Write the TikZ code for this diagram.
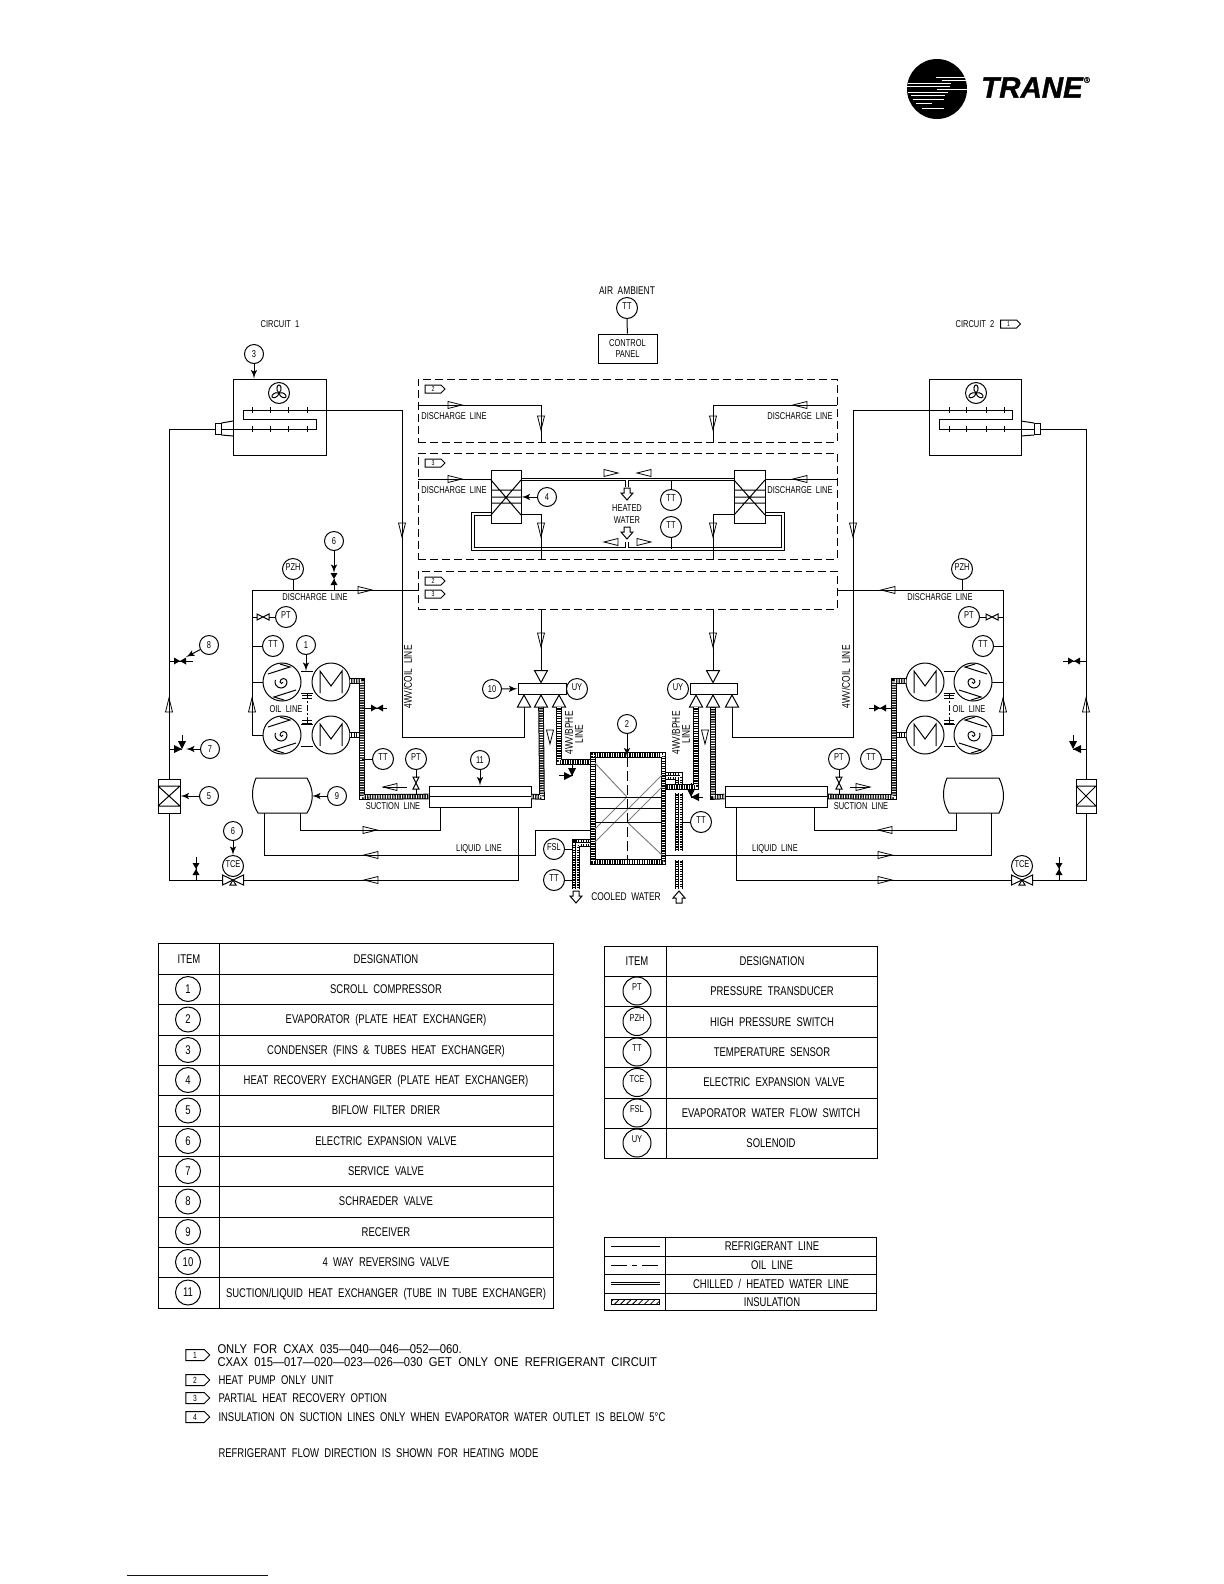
\documentclass[tikz,border=0pt]{standalone}
\usepackage{fontspec}
\setmainfont[FakeStretch=0.75,WordSpace=2]{Liberation Sans}
\newfontfamily\logofont[FakeBold=1.2]{Liberation Sans}
\newfontfamily\widefont[FakeStretch=0.88,WordSpace=2]{Liberation Sans}
\usetikzlibrary{arrows,patterns,shapes.symbols}
\newcommand{\pxu}{0.5bp}
\newcommand{\lblfont}{\fontsize{5pt}{5.6pt}\selectfont}
\newcommand{\midfont}{\fontsize{5.6pt}{6pt}\selectfont}
\newcommand{\tabfont}{\fontsize{6.35pt}{8pt}\selectfont}

\begin{document}
\begin{tikzpicture}[x=0.5bp,y=-0.5bp,line width=0.5pt]
                \tikzset{vertex/.style = {shape=circle,draw,inner sep=0pt,minimum size=19*\pxu,font=\lblfont}}
                \tikzset{instr/.style = {vertex,minimum size=21*\pxu,text height=1.5pt,text depth=0.5pt}}
                \tikzset{bigvertex/.style = {vertex,minimum size=25*\pxu,font=\tabfont}}
                \tikzset{biginstr/.style = {bigvertex,minimum size=28*\pxu,text height=0.5pt,text depth=0.9pt,font=\lblfont}}
                \tikzset{edge/.style = {->,> = latex'}}
                \tikzset{plate/.style = {draw,fill=white,inner sep=0pt}}
                \tikzset{dashbox/.style = {draw,inner sep=0pt,dash pattern=on 4bp off 2bp}}
                \tikzset{txt/.style = {inner sep=0pt,font=\lblfont,text height=3.6pt,text depth=0pt}}
                \tikzset{midtxt/.style = {inner sep=0pt,font=\midfont,text height=4pt,text depth=0pt}}
                \tikzset{tabtxt/.style = {inner sep=0pt,font=\tabfont,text height=4.5pt,text depth=0pt}}
                \tikzset{notetag/.style = {shape=signal,signal to=east,draw,inner sep=0pt,minimum width=20*\pxu,minimum height=8*\pxu,font=\fontsize{3.5pt}{4pt}\selectfont}}
                \tikzset{bigtag/.style = {notetag,minimum width=24*\pxu,minimum height=11*\pxu,font=\fontsize{4.5pt}{5pt}\selectfont}}
                \tikzset{wline/.style = {double,double distance=0.75bp,line width=0.45pt}}
                \tikzset{insul/.style = {line width=5.6*\pxu,postaction={draw=white,line width=3.6*\pxu,dash pattern=on 0.55pt off 0.7pt}}}
                \tikzset{winsul/.style = {line width=7.2*\pxu,postaction={draw=white,line width=5.6*\pxu,dash pattern=on 0.55pt off 0.7pt},postaction={draw=black,solid,line width=2.4*\pxu},postaction={draw=white,solid,line width=1*\pxu}}}
                \tikzset{flow/.pic = {\draw[line width=0.4pt] (-7,-3.5) -- (7,0) -- (-7,3.5) -- cycle;}}
                \tikzset{tri/.pic = {\draw (-6.5,6) -- (6.5,6) -- (0,-6) -- cycle;}}
                \tikzset{block/.pic = {\draw (-3,-6) -- (3,-6) -- (3,-1) -- (6,-1) -- (0,6) -- (-6,-1) -- (-3,-1) -- cycle;}}
                \tikzset{bowtie/.pic = {\draw (-6,-3) -- (6,3) -- (6,-3) -- (-6,3) -- cycle;}}
                \tikzset{solidtie/.pic = {\fill (-6,-3.5) -- (6,3.5) -- (6,-3.5) -- (-6,3.5) -- cycle;}}
                \tikzset{anglevalve/.pic = {\fill (-8,-4) -- (0,0) -- (-8,4) -- cycle; \fill (-4,-8) -- (4,-8) -- (0,0) -- cycle; \draw (0,-8) -- (0,-14);}}
                \tikzset{tcevalve/.pic = {\draw (-10.5,-5) -- (10.5,5) -- (10.5,-5) -- (-10.5,5) -- cycle; \draw (0,0) -- (-3,5) -- (3,5) -- cycle;}}
                \tikzset{motor/.pic = {\draw[fill=white] (0,0) circle [radius=19]; \draw (-11,11) -- (-11,-11) -- (0,4) -- (11,-11) -- (11,11);}}
                \tikzset{scroll/.pic = {\draw[fill=white] (0,0) circle [radius=19]; \draw (-14,-8) -- (8,-15) -- (-2,-18); \draw (14,8) -- (-8,15) -- (2,18); \draw (1,0) arc [start angle=0,end angle=180,radius=1.5] arc [start angle=180,end angle=360,radius=3.5] arc [start angle=0,end angle=200,radius=6];}}
                \tikzset{fan/.pic = {\draw (0,0) circle [radius=10.5]; \draw (0,0) .. controls (-3.5,-3) and (-2,-8) .. (0,-8) .. controls (2,-8) and (3.5,-3) .. (0,0); \draw[rotate=120] (0,0) .. controls (-3.5,-3) and (-2,-8) .. (0,-8) .. controls (2,-8) and (3.5,-3) .. (0,0); \draw[rotate=240] (0,0) .. controls (-3.5,-3) and (-2,-8) .. (0,-8) .. controls (2,-8) and (3.5,-3) .. (0,0);}}
                \useasboundingbox (0,0) rectangle (1224,1584);

                % logo
                \node[circle,fill=black,inner sep=0pt,minimum size=60*\pxu] (logo) at (937,89) {};
                \draw[white,line width=0.45pt] (936,77) -- (967,77) (942,80) -- (968,80) (908,83) -- (951,83) (907,86) -- (950,86) (937,89) -- (968,89) (908,92) -- (948,92) (911,95) -- (945,95) (913,99) -- (944,99) (916,103) -- (932,103) (922,108) -- (944,108);
                \node[inner sep=0pt,font=\logofont\bfseries\itshape\fontsize{14.8pt}{15pt}\selectfont] (trane) at (1032,87.5) {TRANE};
                \node[inner sep=0pt,font=\logofont\fontsize{4pt}{4pt}\selectfont] (regd) at (1087,80) {®};

                % top labels
                \node[txt] (circ1) at (280,324) {CIRCUIT 1};
                \node[txt] (circ2) at (975,324) {CIRCUIT 2};
                \node[notetag] (tg1) at (1008.5,324) {1};
                \node[midtxt] (ambient) at (627,291) {AIR AMBIENT};
                \node[instr] (ttair) at (627,308) {TT};
                \node[plate,minimum width=59*\pxu,minimum height=29*\pxu,align=center,font=\lblfont] (panel) at (627.5,348.5) {CONTROL\\PANEL};
                \draw (ttair) to (panel);

                % dashed option boxes
                \node[dashbox,minimum width=419*\pxu,minimum height=63*\pxu] (box1) at (627.5,410.5) {};
                \node[dashbox,minimum width=419*\pxu,minimum height=106*\pxu] (box2) at (627.5,506) {};
                \node[dashbox,minimum width=419*\pxu,minimum height=38*\pxu] (box3) at (627.5,590) {};
                \node[notetag] (tg2) at (433,389) {2};
                \node[notetag] (tg3) at (433,463) {3};
                \node[notetag] (tg4) at (433,581) {2};
                \node[notetag] (tg5) at (433,594) {3};
                \node[txt] (dl1) at (454,416) {DISCHARGE LINE};
                \node[txt] (dl2) at (454,490) {DISCHARGE LINE};
                \node[txt] (dl3) at (315,597) {DISCHARGE LINE};
                \node[txt] (dl4) at (800,416) {DISCHARGE LINE};
                \node[txt] (dl5) at (800,490) {DISCHARGE LINE};
                \node[txt] (dl6) at (940,597) {DISCHARGE LINE};

                % coordinates
                \coordinate (j1) at (252,590);
                \coordinate (j2) at (1003,590);
                \coordinate (j3) at (169,429);
                \coordinate (j4) at (1086,429);
                \coordinate (ra1) at (524,707);
                \coordinate (rb1) at (541,707);
                \coordinate (rc1) at (559,707);
                \coordinate (ra2) at (696,707);
                \coordinate (rb2) at (713,707);
                \coordinate (rc2) at (732,707);

                % condensers
                \node[plate,minimum width=93*\pxu,minimum height=76*\pxu] (cond1) at (279.5,417) {};
                \node[plate,minimum width=92*\pxu,minimum height=76*\pxu] (cond2) at (975.5,417) {};
                \node[plate,minimum width=6*\pxu,minimum height=11*\pxu] (dist1) at (218,429) {};
                \node[plate,minimum width=6*\pxu,minimum height=11*\pxu] (dist2) at (1037.5,429) {};
                \pic at (279,393) {fan};
                \pic at (976,393) {fan};
                \draw (402,410) -- (243,410) -- (243,419) -- (316,419) -- (316,429) -- (dist1);
                \draw (853,410) -- (1012,410) -- (1012,419) -- (939,419) -- (939,429) -- (dist2);
                \draw (252,407) -- (252,413) (270,407) -- (270,413) (288,407) -- (288,413) (307,407) -- (307,413) (252,426) -- (252,432) (270,426) -- (270,432) (288,426) -- (288,432) (307,426) -- (307,432);
                \draw (949,407) -- (949,413) (966,407) -- (966,413) (986,407) -- (986,413) (1004,407) -- (1004,413) (949,426) -- (949,432) (966,426) -- (966,432) (986,426) -- (986,432) (1004,426) -- (1004,432);
                \draw (dist1.north east) -- (233,421) (dist1.south east) -- (233,436);
                \draw (dist2.north west) -- (1021,421) (dist2.south west) -- (1021,436);
                \node[vertex] (c3) at (254,354) {3};
                \draw[edge] (c3) to (c3 |- cond1.north);

                % left and right outer lines
                \node[plate,minimum width=22*\pxu,minimum height=34*\pxu] (filt1) at (169,796) {};
                \node[plate,minimum width=20*\pxu,minimum height=34*\pxu] (filt2) at (1086,796) {};
                \draw (dist1) -- (j3) -- (filt1);
                \draw (dist2) -- (j4) -- (filt2);
                \draw (158,786) -- (180,786) (158,806) -- (180,806) (158,786) -- (180,806) (180,786) -- (158,806);
                \draw (1076,786) -- (1096,786) (1076,806) -- (1096,806) (1076,786) -- (1096,806) (1096,786) -- (1076,806);
                \pic[rotate=90] at (169,705) {flow};
                \pic[rotate=90] at (1086,705) {flow};
                \node[vertex] (c8) at (209,645) {8};
                \node[vertex] (c7) at (210,749) {7};
                \node[vertex] (c5) at (209,796) {5};
                \draw (j3 |- 0,661) -- (193,661);
                \draw (1086,661) -- (1063,661);
                \pic at (180,661) {solidtie};
                \pic at (1074,661) {solidtie};
                \draw[edge] (c8) to (186,657);
                \draw (169,749) -- (182,749);
                \draw (1086,749) -- (1073,749);
                \pic at (182,749) {anglevalve};
                \pic[xscale=-1] at (1073,749) {anglevalve};
                \draw[edge] (c7) to (186,749);
                \draw[edge] (c5) to (filt1);

                % discharge lines
                \node[instr] (pzh1) at (293,569) {PZH};
                \node[instr] (pzh2) at (962,569) {PZH};
                \node[vertex] (c6) at (334,541) {6};
                \draw (j1) -- (box3.west);
                \draw (box3.east) -- (j2);
                \draw (pzh1) -- (pzh1 |- j1);
                \draw (pzh2) -- (pzh2 |- j2);
                \draw (c6 |- j1) -- (334,579);
                \draw[edge] (c6) to (334,573);
                \pic[rotate=90] at (334,579) {solidtie};
                \pic at (365,590) {flow};
                \pic[rotate=180] at (888,590) {flow};
                \draw (402,410) -- (402,737) -- (524,737) -- (ra1);
                \draw (853,410) -- (853,737) -- (732,737) -- (rc2);
                \pic[rotate=-90] at (402,530) {flow};
                \pic[rotate=-90] at (853,530) {flow};

                % option box contents
                \coordinate (b1l) at (418,405);
                \coordinate (b1r) at (837,405);
                \coordinate (b2l) at (418,479);
                \coordinate (b2r) at (837,479);
                \draw (b1l) -- (541,405) -- (541,442);
                \draw (b1r) -- (713,405) -- (713,442);
                \pic at (455,405) {flow};
                \pic[rotate=-90] at (541,423) {flow};
                \pic[rotate=180] at (800,405) {flow};
                \pic[rotate=-90] at (713,423) {flow};
                \draw[wline] (521,479.5) -- (734,479.5);
                \draw[wline] (491,514) -- (473,514) -- (473,549) -- (783,549) -- (783,514) -- (765,514);
                \draw[wline] (627,480) -- (627,487);
                \draw[wline] (627,542) -- (627,548);
                \node[plate,minimum width=30*\pxu,minimum height=53*\pxu] (hxa) at (506,496.5) {};
                \node[plate,minimum width=31*\pxu,minimum height=53*\pxu] (hxb) at (749.5,496.5) {};
                \draw (491,480) -- (521,515) (521,480) -- (491,515) (491,490) -- (521,490) (491,497) -- (521,497) (491,503) -- (521,503);
                \draw (734,480) -- (765,515) (765,480) -- (734,515) (734,490) -- (765,490) (734,497) -- (765,497) (734,503) -- (765,503);
                \draw (b2l) -- (hxa.west |- b2l);
                \draw (b2r) -- (hxb.east |- b2r);
                \draw (521,514) -- (541,514) -- (541,559);
                \draw (734,514) -- (713,514) -- (713,559);
                \pic at (455,479) {flow};
                \pic[rotate=-90] at (541,530) {flow};
                \pic[rotate=180] at (800,479) {flow};
                \pic[rotate=-90] at (713,530) {flow};
                \node[vertex] (c4) at (547,497) {4};
                \draw[edge] (c4) to (hxa.east |- c4);
                \node[instr] (tta) at (671,500) {TT};
                \node[instr] (ttb) at (671,527) {TT};
                \draw (tta) to (671,480);
                \draw (ttb) to (671,549);
                \pic at (611,473) {flow};
                \pic[rotate=180] at (644,473) {flow};
                \pic[rotate=180] at (611,542) {flow};
                \pic at (644,542) {flow};
                \pic at (627,494) {block};
                \pic at (627,533) {block};
                \node[inner sep=0pt,font=\lblfont,align=center] (heated) at (627,514) {HEATED\\WATER};

                % compressors
                \draw (j1) -- (252,735) -- (263,735);
                \draw (252,682) -- (263,682);
                \draw (j2) -- (1003,735) -- (992,735);
                \draw (1003,682) -- (992,682);
                \pic[rotate=90] at (252,705) {flow};
                \pic[rotate=90] at (1003,705) {flow};
                \draw (301,671) -- (313,671) (301,693) -- (313,693) (301,724) -- (313,724) (301,746) -- (313,746);
                \draw (944,671) -- (955,671) (944,693) -- (955,693) (944,724) -- (955,724) (944,746) -- (955,746);
                \draw[dash pattern=on 3bp off 1bp on 1bp off 1bp] (307,693) -- (307,724);
                \draw[dash pattern=on 3bp off 1bp on 1bp off 1bp] (949,693) -- (949,724);
                \draw (302,695) -- (312,695) (302,698) -- (312,698) (302,720) -- (312,720) (302,723) -- (312,723);
                \draw (944,695) -- (954,695) (944,698) -- (954,698) (944,720) -- (954,720) (944,723) -- (954,723);
                \pic at (282,682) {scroll};
                \pic at (331,682) {motor};
                \pic at (282,735) {scroll};
                \pic at (331,735) {motor};
                \pic at (925,682) {motor};
                \pic[xscale=-1] at (973,682) {scroll};
                \pic at (925,735) {motor};
                \pic[xscale=-1] at (973,735) {scroll};
                \node[txt] (oil1) at (286,709) {OIL LINE};
                \node[txt] (oil2) at (969,709) {OIL LINE};
                \node[vertex] (c1) at (306,645) {1};
                \draw[edge] (c1) to (306,671);
                \node[instr] (tt1) at (273,646) {TT};
                \node[instr] (pt1) at (286,617) {PT};
                \node[instr] (tt2) at (983,646) {TT};
                \node[instr] (pt2) at (969,617) {PT};
                \draw (tt1) -- (tt1 -| j1);
                \draw (pt1) -- (pt1 -| j1);
                \draw (tt2) -- (tt2 -| j2);
                \draw (pt2) -- (pt2 -| j2);
                \node[fill=white,inner sep=0pt,minimum width=12*\pxu,minimum height=7*\pxu] (vp1) at (263,617) {};
                \node[fill=white,inner sep=0pt,minimum width=12*\pxu,minimum height=7*\pxu] (vp2) at (992,617) {};
                \pic at (263,617) {bowtie};
                \pic at (992,617) {bowtie};

                % suction lines
                \node[plate,minimum width=102*\pxu,minimum height=21*\pxu] (hx1) at (480,796.5) {};
                \node[plate,minimum width=102*\pxu,minimum height=21*\pxu] (hx2) at (776,796.5) {};
                \draw (hx1.west) -- (hx1.east);
                \draw (hx2.west) -- (hx2.east);
                \draw[insul] (350,735) -- (362,735);
                \draw[insul] (906,735) -- (894,735);
                \draw[insul] (350,681) -- (362,681) -- (362,797) -- (hx1.west);
                \draw[insul] (hx1.east) -- (542,797) -- (rb1);
                \draw[insul] (906,681) -- (894,681) -- (894,797) -- (hx2.east);
                \draw[insul] (hx2.west) -- (713,797) -- (rb2);
                \node[txt] (sl1) at (393,806) {SUCTION LINE};
                \node[txt] (sl2) at (861,806) {SUCTION LINE};
                \node[vertex] (c11) at (480,760) {11};
                \draw[edge] (c11) to (c11 |- hx1.north);
                \node[instr] (tt3) at (383,759) {TT};
                \node[instr] (pt3) at (416,759) {PT};
                \node[instr] (tt4) at (871,759) {TT};
                \node[instr] (pt4) at (839,759) {PT};
                \draw (tt3) -- (362,759);
                \draw (tt4) -- (894,759);
                \draw (pt3) -- (416,795);
                \draw (pt4) -- (839,795);
                \node[fill=white,inner sep=0pt,minimum width=7*\pxu,minimum height=11*\pxu] (vp3) at (416,783) {};
                \node[fill=white,inner sep=0pt,minimum width=7*\pxu,minimum height=11*\pxu] (vp4) at (839,783) {};
                \pic[rotate=90] at (416,783) {bowtie};
                \pic[rotate=90] at (839,783) {bowtie};
                \draw (362,708) -- (387,708);
                \draw (894,708) -- (869,708);
                \pic at (377,708) {solidtie};
                \pic at (880,708) {solidtie};
                \pic[rotate=180] at (390,787) {flow};
                \draw (383,787) -- (407,787);
                \pic at (863,787) {flow};
                \draw (850,787) -- (870,787);

                % reversing valves
                \node[plate,minimum width=48*\pxu,minimum height=11*\pxu] (rv1) at (542,688.5) {};
                \node[plate,minimum width=47*\pxu,minimum height=11*\pxu] (rv2) at (713.5,688.5) {};
                \draw (541,609) -- (541,670);
                \draw (713,609) -- (713,670);
                \pic[rotate=-90] at (541,640) {flow};
                \pic[rotate=-90] at (713,640) {flow};
                \pic[rotate=180] at (541,676.5) {tri};
                \pic[rotate=180] at (713,676.5) {tri};
                \pic at (524,701) {tri};
                \pic at (541,701) {tri};
                \pic at (559,701) {tri};
                \pic at (696,701) {tri};
                \pic at (713,701) {tri};
                \pic at (732,701) {tri};
                \node[vertex] (c10) at (492,689) {10};
                \node[instr] (uy1) at (577,689) {UY};
                \node[instr] (uy2) at (678,689) {UY};
                \draw[edge] (c10) to (rv1);
                \node[midtxt,rotate=90] (coil1) at (408,677) {4WV/COIL LINE};
                \node[midtxt,rotate=90] (coil2) at (846,677) {4WV/COIL LINE};
                \node[midtxt,rotate=90] (bphe1) at (569,733) {4WV/BPHE};
                \node[midtxt,rotate=90] (bline1) at (579,734) {LINE};
                \node[midtxt,rotate=90] (bphe2) at (676,733) {4WV/BPHE};
                \node[midtxt,rotate=90] (bline2) at (686,734) {LINE};
                \pic[rotate=-90] at (550,737) {flow};
                \pic[rotate=-90] at (705,737) {flow};

                % receivers and liquid lines
                \draw (264,813) -- (264,855) -- (535,855) -- (535,830) -- (593,830);
                \draw (300,813) -- (300,830) -- (440,830) -- (440,807);
                \draw (518,807) -- (518,880) -- (169,880) -- (filt1);
                \draw (664,855) -- (991,855) -- (991,813);
                \draw (814,807) -- (814,830) -- (956,830) -- (956,813);
                \draw (736,807) -- (736,880) -- (1086,880) -- (filt2);
                \pic at (370,830) {flow};
                \pic[rotate=180] at (371,855) {flow};
                \pic[rotate=180] at (371,880) {flow};
                \pic[rotate=180] at (885,830) {flow};
                \pic at (885,855) {flow};
                \pic at (885,880) {flow};
                \draw[fill=white] (256,778) -- (307,778) .. controls (314,790) and (314,802) .. (307,813) -- (258,813) .. controls (251,802) and (251,790) .. (256,778);
                \draw[fill=white] (947,778) -- (999,778) .. controls (1005,790) and (1005,802) .. (999,813) -- (949,813) .. controls (942,802) and (942,790) .. (947,778);
                \node[vertex] (c9) at (337,796) {9};
                \draw[edge] (c9) to (312,796);
                \node[txt] (ll1) at (479,848) {LIQUID LINE};
                \node[txt] (ll2) at (775,848) {LIQUID LINE};
                \node[vertex] (c6b) at (233,831) {6};
                \node[instr] (tce1) at (233,866) {TCE};
                \node[instr] (tce2) at (1022,866) {TCE};
                \draw[edge] (c6b) to (tce1);
                \node[fill=white,inner sep=0pt,minimum width=21*\pxu,minimum height=5*\pxu] (vt1) at (233,880) {};
                \node[fill=white,inner sep=0pt,minimum width=21*\pxu,minimum height=5*\pxu] (vt2) at (1022,880) {};
                \pic at (233,880) {tcevalve};
                \pic at (1022,880) {tcevalve};
                \draw (196,880) -- (196,857);
                \draw (1059,880) -- (1059,857);
                \pic[rotate=90] at (196,869) {solidtie};
                \pic[rotate=90] at (1059,869) {solidtie};

                % evaporator
                \draw[insul] (rc1) -- (559,762) -- (593,762);
                \draw[insul] (ra2) -- (696,787) -- (664,787);
                \draw[winsul] (593,843) -- (576,843) -- (576,889);
                \draw[winsul] (664,776) -- (679,776) -- (679,784);
                \draw[winsul] (679,793) -- (679,851);
                \draw[winsul] (679,860) -- (679,889);
                \draw[insul] (593,755) rectangle (663.5,862);
                \node[inner sep=0pt,minimum width=66*\pxu,minimum height=103*\pxu] (evap) at (628.25,808.5) {};
                \draw[gray] (595,763) -- (627,797) (627,822) -- (662,855) (662,775) -- (595,842) (627,797) -- (595,829) (662,787) -- (627,822);
                \draw (595,797) -- (662,797) (595,808) -- (662,808) (595,822) -- (662,822);
                \draw[dash pattern=on 5bp off 2bp] (627,757) -- (627,861);
                \node[vertex] (c2) at (627,724) {2};
                \draw[edge] (c2) to (c2 |- evap.north);
                \draw (559,775) -- (572,775) (572,762) -- (572,776);
                \draw (703,797) -- (691,797) (691,787) -- (691,797);
                \pic at (572,776) {anglevalve};
                \pic[xscale=-1] at (691,797) {anglevalve};
                \node[instr] (fsl) at (554,849) {FSL};
                \node[instr] (tt5) at (554,880) {TT};
                \node[instr] (tt6) at (701,822) {TT};
                \draw (fsl) -- (572,849);
                \draw (tt5) -- (572,880);
                \draw (tt6) -- (683,822);
                \pic at (576,897) {block};
                \pic[rotate=180] at (679,897) {block};
                \node[midtxt] (cooled) at (626,897) {COOLED WATER};

                % item table
                \draw (158,943) rectangle (553,1308);
                \draw (219,943) -- (219,1308);
                \draw (158,974) -- (553,974) (158,1004.5) -- (553,1004.5) (158,1035) -- (553,1035) (158,1065) -- (553,1065) (158,1095.5) -- (553,1095.5) (158,1126) -- (553,1126) (158,1156) -- (553,1156) (158,1186.5) -- (553,1186.5) (158,1217) -- (553,1217) (158,1247) -- (553,1247) (158,1277.5) -- (553,1277.5);
                \node[tabtxt] (ih) at (189,959) {ITEM};
                \node[tabtxt] (dh) at (386,959) {DESIGNATION};
                \node[bigvertex] (i1) at (188,989) {1};
                \node[bigvertex] (i2) at (188,1019.5) {2};
                \node[bigvertex] (i3) at (188,1050) {3};
                \node[bigvertex] (i4) at (188,1080) {4};
                \node[bigvertex] (i5) at (188,1110.5) {5};
                \node[bigvertex] (i6) at (188,1141) {6};
                \node[bigvertex] (i7) at (188,1171) {7};
                \node[bigvertex] (i8) at (188,1201.5) {8};
                \node[bigvertex] (i9) at (188,1232) {9};
                \node[bigvertex] (i10) at (188,1262) {10};
                \node[bigvertex] (i11) at (188,1292.5) {11};
                \node[tabtxt] (d1) at (386,989) {SCROLL COMPRESSOR};
                \node[tabtxt] (d2) at (386,1019.5) {EVAPORATOR (PLATE HEAT EXCHANGER)};
                \node[tabtxt] (d3) at (386,1050) {CONDENSER (FINS \& TUBES HEAT EXCHANGER)};
                \node[tabtxt] (d4) at (386,1080) {HEAT RECOVERY EXCHANGER (PLATE HEAT EXCHANGER)};
                \node[tabtxt] (d5) at (386,1110.5) {BIFLOW FILTER DRIER};
                \node[tabtxt] (d6) at (386,1141) {ELECTRIC EXPANSION VALVE};
                \node[tabtxt] (d7) at (386,1171) {SERVICE VALVE};
                \node[tabtxt] (d8) at (386,1201.5) {SCHRAEDER VALVE};
                \node[tabtxt] (d9) at (386,1232) {RECEIVER};
                \node[tabtxt] (d10) at (386,1262) {4 WAY REVERSING VALVE};
                \node[tabtxt] (d11) at (386,1292.5) {SUCTION/LIQUID HEAT EXCHANGER (TUBE IN TUBE EXCHANGER)};

                % instrument table
                \draw (604,946) rectangle (877,1158);
                \draw (666,946) -- (666,1158);
                \draw (604,976) -- (877,976) (604,1006) -- (877,1006) (604,1037) -- (877,1037) (604,1067) -- (877,1067) (604,1098) -- (877,1098) (604,1128) -- (877,1128);
                \node[tabtxt] (jh) at (637,961) {ITEM};
                \node[tabtxt] (eh) at (772,961) {DESIGNATION};
                \node[biginstr] (j1a) at (637,991) {PT};
                \node[biginstr] (j2a) at (637,1021.5) {PZH};
                \node[biginstr] (j3a) at (637,1052) {TT};
                \node[biginstr] (j4a) at (637,1082.5) {TCE};
                \node[biginstr] (j5a) at (637,1113) {FSL};
                \node[biginstr] (j6a) at (637,1143) {UY};
                \node[tabtxt] (e1) at (772,991) {PRESSURE TRANSDUCER};
                \node[tabtxt] (e2) at (772,1022) {HIGH PRESSURE SWITCH};
                \node[tabtxt] (e3) at (772,1052) {TEMPERATURE SENSOR};
                \node[tabtxt] (e4) at (774,1082) {ELECTRIC EXPANSION VALVE};
                \node[tabtxt] (e5) at (771,1113) {EVAPORATOR WATER FLOW SWITCH};
                \node[tabtxt] (e6) at (771,1143) {SOLENOID};

                % line legend
                \draw (604,1237) rectangle (876,1310);
                \draw (665,1237) -- (665,1310);
                \draw (604,1256) -- (876,1256) (604,1274) -- (876,1274) (604,1293) -- (876,1293);
                \coordinate (la1) at (611,1246.5);
                \coordinate (la2) at (660,1246.5);
                \coordinate (lb1) at (611,1265);
                \coordinate (lb2) at (660,1265);
                \coordinate (lc1) at (611,1283.5);
                \coordinate (lc2) at (660,1283.5);
                \draw (la1) -- (la2);
                \draw[dash pattern=on 8bp off 2.5bp on 2.5bp off 2.5bp] (lb1) -- (lb2);
                \draw[wline] (lc1) -- (lc2);
                \draw[pattern=north east lines] (611,1299) rectangle (659,1304);
                \node[tabtxt] (k1) at (772,1246.5) {REFRIGERANT LINE};
                \node[tabtxt] (k2) at (772,1265) {OIL LINE};
                \node[tabtxt] (k3) at (771,1283.5) {CHILLED / HEATED WATER LINE};
                \node[tabtxt] (k4) at (772,1301.5) {INSULATION};

                % notes
                \node[bigtag] (n1) at (195,1355) {1};
                \node[bigtag] (n2) at (195,1380) {2};
                \node[bigtag] (n3) at (195,1398) {3};
                \node[bigtag] (n4) at (195,1417) {4};
                \node[inner sep=0pt,font=\widefont\fontsize{6.4pt}{8pt}\selectfont,anchor=west] (t1a) at (217,1349) {ONLY FOR CXAX 035—040—046—052—060.};
                \node[inner sep=0pt,font=\widefont\fontsize{6.4pt}{8pt}\selectfont,anchor=west] (t1b) at (217,1362) {CXAX 015—017—020—023—026—030 GET ONLY ONE REFRIGERANT CIRCUIT};
                \node[tabtxt,anchor=west] (t2) at (218,1380) {HEAT PUMP ONLY UNIT};
                \node[tabtxt,anchor=west] (t3) at (218,1398) {PARTIAL HEAT RECOVERY OPTION};
                \node[tabtxt,anchor=west] (t4) at (218,1417) {INSULATION ON SUCTION LINES ONLY WHEN EVAPORATOR WATER OUTLET IS BELOW 5°C};
                \node[tabtxt,anchor=west] (t5) at (218,1453) {REFRIGERANT FLOW DIRECTION IS SHOWN FOR HEATING MODE};

                % footnote rule
                \coordinate (fa) at (127,1575);
                \coordinate (fb) at (268,1575);
                \draw[blue!65!black] (fa) -- (fb);
\end{tikzpicture}
\end{document}
